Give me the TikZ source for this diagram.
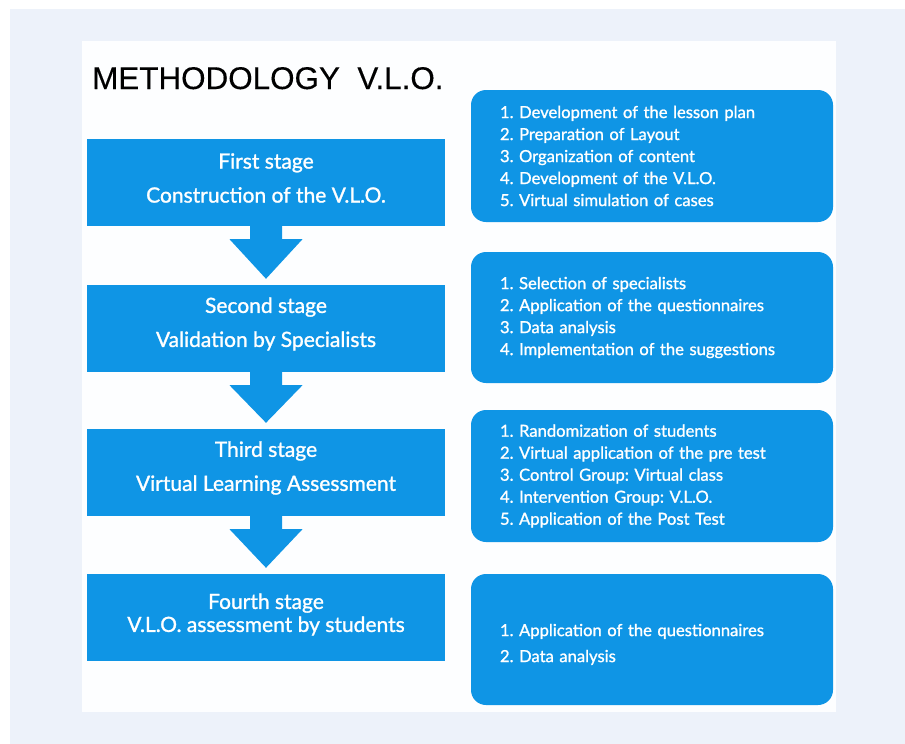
\documentclass[tikz,border=0pt]{standalone}
\usepackage{fontspec}
\setmainfont{Lato}[FakeBold=1.2,BoldFont={Lato}]
\newfontfamily\titlefont{Liberation Sans}[FakeBold=0.3,BoldFont={Liberation Sans}]
\definecolor{pagebg}{HTML}{EDF2FA}
\definecolor{panel}{HTML}{FDFEFF}
\definecolor{vloblue}{HTML}{0F95E5}
\tikzset{
  stagebox/.style={fill=vloblue, draw=none, minimum width=358pt, minimum height=87pt,
    inner sep=0pt},
  stagetxt/.style={inner sep=0pt, align=center, text=white, font=\fontsize{21}{34}\selectfont\bfseries},
  listbox/.style={fill=vloblue, draw=none, rounded corners=15pt, minimum width=362pt,
    minimum height=131pt, inner xsep=29pt, inner ysep=0pt, text width=304pt, align=left,
    text=white, font=\fontsize{16.6}{22}\selectfont\bfseries},
  flowarrow/.style={fill=vloblue, draw=none}
}
\begin{document}
\frenchspacing
\begin{tikzpicture}[x=1pt,y=-1pt]
\useasboundingbox (0,0) rectangle (905,744);
\fill[white] (0,0) rectangle (905,744);
\fill[pagebg] (10,9) rectangle (905,744);
\fill[panel] (82,41) rectangle (836,712);
\node[anchor=base west, inner sep=0pt, font=\titlefont\fontsize{31.4}{31}\selectfont\bfseries] (title) at (92,89) {METHODOLOGY\ \ V.L.O.};
% stage boxes
\node[stagebox] (s1) at (266,182.5) {};
\node[stagebox] (s2) at (266,328.5) {};
\node[stagebox] (s3) at (266,472.5) {};
\node[stagebox] (s4) at (266,617.5) {};
\node[stagetxt] (s1t) at ([yshift=4.5pt]s1.center) {First stage\\Construction of the V.L.O.};
\node[stagetxt] (s2t) at ([yshift=4.5pt]s2.center) {Second stage\\Validation by Specialists};
\node[stagetxt] (s3t) at ([yshift=4.5pt]s3.center) {Third stage\\Virtual Learning Assessment};
\node[stagetxt, font=\fontsize{21}{23}\selectfont\bfseries] (s4t) at ([yshift=3pt]s4.center) {Fourth stage\\V.L.O. assessment by students};
% arrows
\foreach \a/\b in {s1/s2, s2/s3, s3/s4}{
  \fill[flowarrow] ([xshift=-16pt]\a.south) -- ([xshift=-16pt,yshift=-13pt]\a.south)
    -- ([xshift=-36.5pt,yshift=-13pt]\a.south) -- ([yshift=6pt]\b.north)
    -- ([xshift=36.5pt,yshift=-13pt]\a.south) -- ([xshift=16pt,yshift=-13pt]\a.south)
    -- ([xshift=16pt]\a.south) -- cycle;
}
% list boxes
\node[listbox, minimum height=132pt] (r1) at (652,156) {1. Development of the lesson plan\\2. Preparation of Layout\\3. Organization of content\\4. Development of the V.L.O.\\5. Virtual simulation of cases};
\node[listbox] (r2) at (652,317.5) {1. Selection of specialists\\2. Application of the questionnaires\\3. Data analysis\\4. Implementation of the suggestions};
\node[listbox, minimum height=132pt] (r3) at (652,476) {1. Randomization of students\\2. Virtual application of the pre test\\3. Control Group: Virtual class\\4. Intervention Group: V.L.O.\\5. Application of the Post Test};
\node[listbox, font=\fontsize{16.6}{26}\selectfont\bfseries] (r4) at (652,639.5) {\\[-4pt]1. Application of the questionnaires\\2. Data analysis};
\end{tikzpicture}
\end{document}
